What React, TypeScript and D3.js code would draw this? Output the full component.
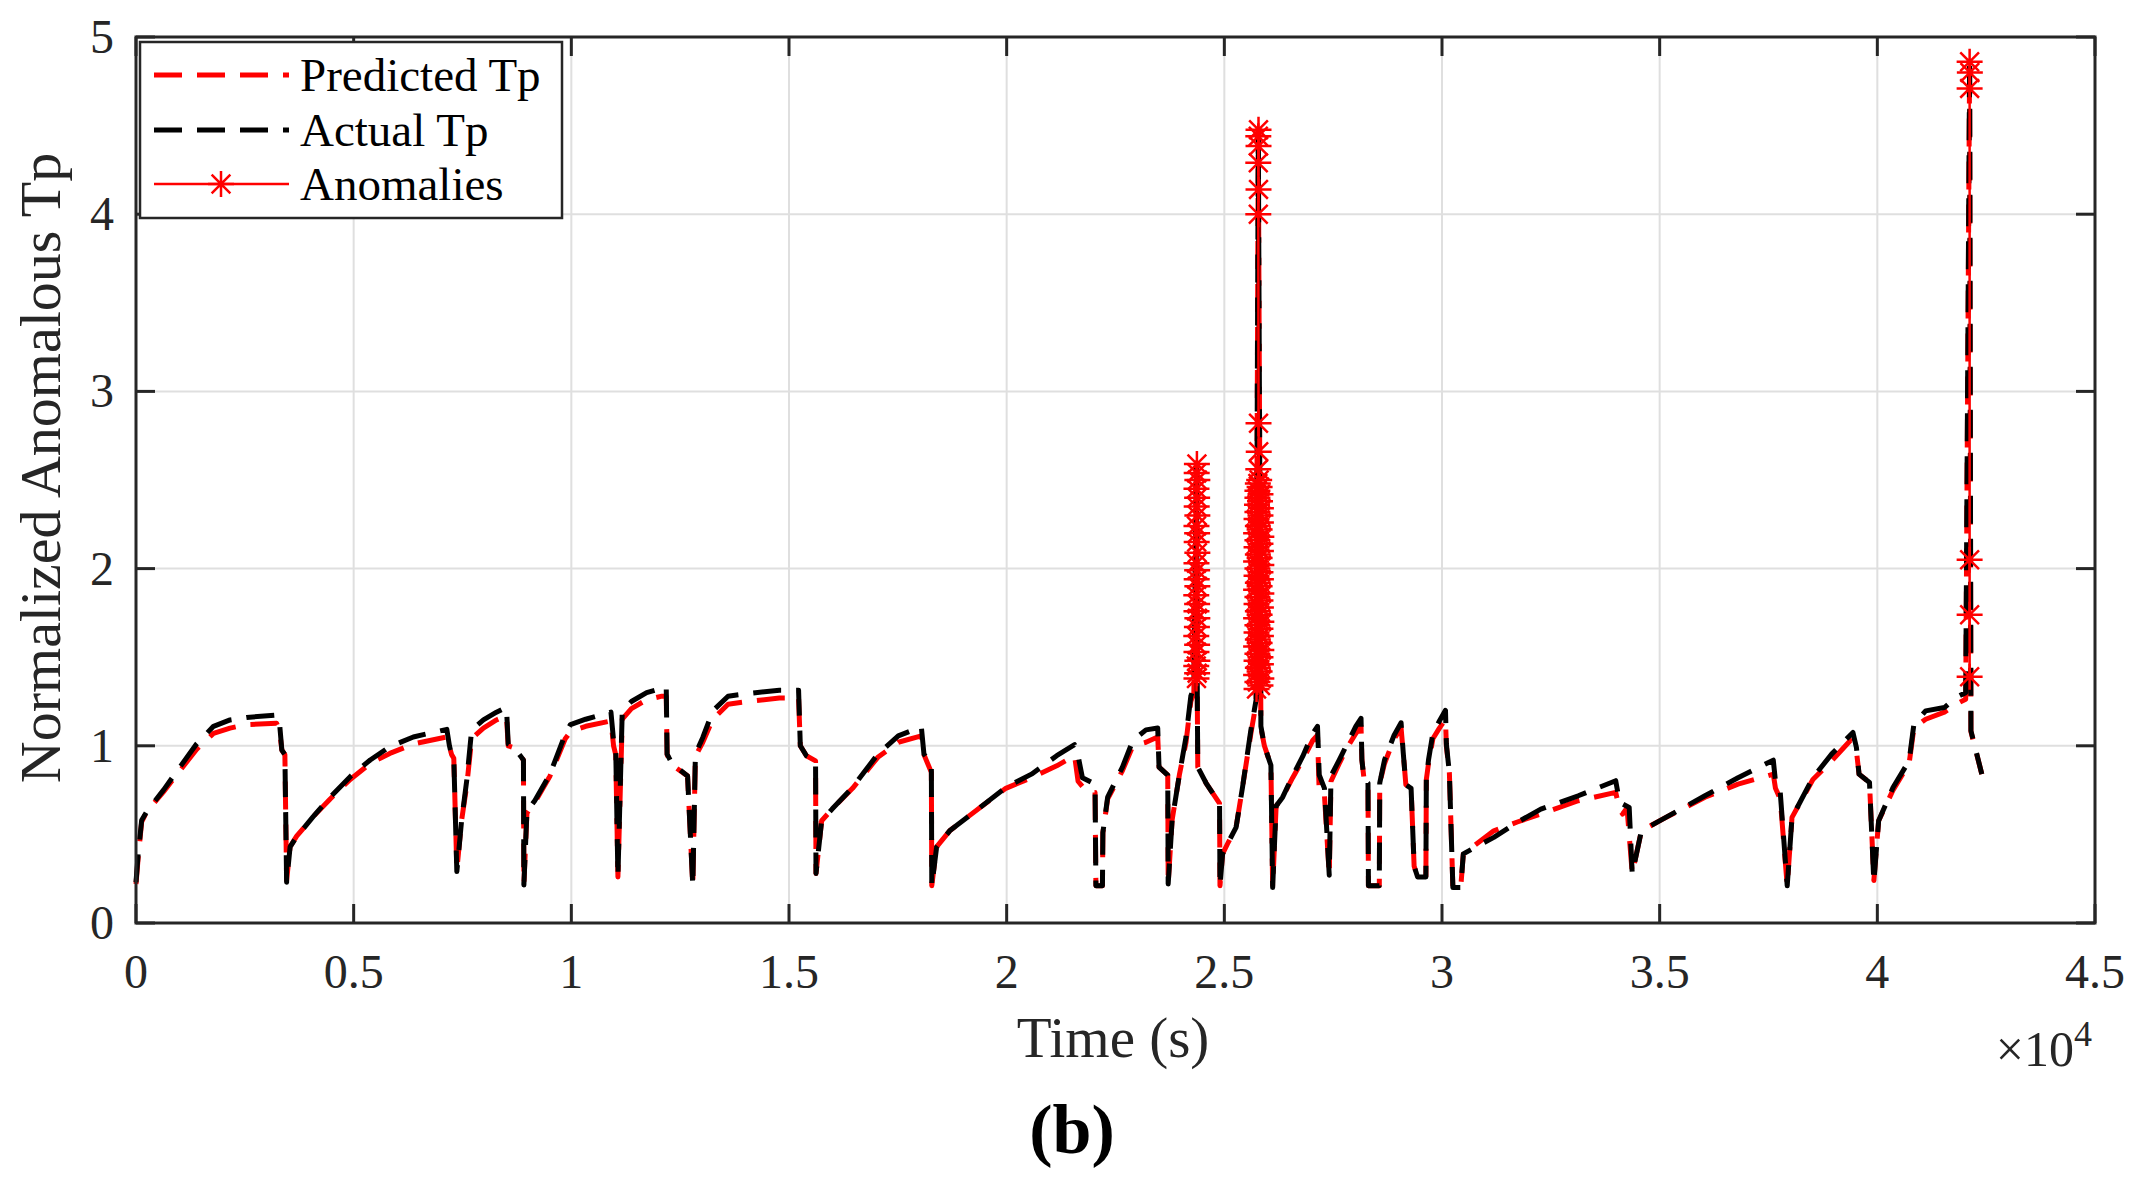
import * as d3 from "d3";

// ---- data (time in seconds, value normalized) ----
const xTicks = [0, 5000, 10000, 15000, 20000, 25000, 30000, 35000, 40000, 45000];
const xTickLabels = ["0", "0.5", "1", "1.5", "2", "2.5", "3", "3.5", "4", "4.5"];
const yTicks = [0, 1, 2, 3, 4, 5];

const actualTp: [number, number][] = [
  [0, 0.23], [50, 0.39], [130, 0.58], [250, 0.63], [630, 0.75], [1010, 0.88], [1390, 1.01],
  [1780, 1.11], [2160, 1.146], [2540, 1.16], [3230, 1.174], [3300, 1.12], [3350, 0.976],
  [3420, 0.95], [3460, 0.23],
  [3540, 0.43], [3690, 0.487], [4070, 0.6], [4460, 0.71], [4920, 0.826], [5380, 0.92],
  [5830, 0.995], [6370, 1.05], [7140, 1.093], [7200, 1.0], [7250, 0.948], [7300, 0.93], [7370, 0.29],
  [7480, 0.58], [7600, 0.81], [7710, 1.09], [7980, 1.146], [8280, 1.19], [8510, 1.217],
  [8550, 1.01], [8670, 0.995], [8900, 0.92], [8910, 0.214],
  [8980, 0.63], [9160, 0.69], [9510, 0.84], [9860, 1.066], [9980, 1.12], [10330, 1.15],
  [10910, 1.19], [10970, 1.03], [11020, 0.98], [11070, 0.26],
  [11170, 1.2], [11380, 1.25], [11730, 1.3], [12080, 1.325], [12180, 1.333], [12200, 0.953],
  [12320, 0.897], [12670, 0.83], [12790, 0.21],
  [12850, 0.953], [13020, 1.047], [13250, 1.197], [13600, 1.28], [14070, 1.295], [14780, 1.314],
  [15220, 1.314], [15260, 1.0], [15400, 0.944], [15610, 0.915], [15620, 0.28],
  [15750, 0.577], [15990, 0.643], [16460, 0.765], [17040, 0.953], [17510, 1.056], [18040, 1.107],
  [18100, 0.953], [18270, 0.897], [18280, 0.21],
  [18390, 0.427], [18690, 0.52], [19390, 0.652], [19980, 0.765], [20570, 0.84], [21150, 0.944],
  [21560, 1.006], [21640, 0.944], [21740, 0.82], [22030, 0.784], [22050, 0.21], [22200, 0.21],
  [22210, 0.51], [22320, 0.71], [22660, 0.88], [22900, 1.03], [23200, 1.09], [23470, 1.1],
  [23500, 0.88], [23700, 0.835], [23710, 0.22],
  [23800, 0.58], [23970, 0.84], [24120, 1.05], [24230, 1.28], [24300, 1.33], [24360, 2.58],
  [24380, 1.24], [24390, 0.88], [24580, 0.79], [24890, 0.675], [24900, 0.21],
  [24960, 0.39], [25080, 0.45], [25270, 0.54], [25420, 0.77], [25610, 1.09], [25730, 1.26],
  [25780, 4.47], [25840, 1.11], [25920, 1.0], [26070, 0.89], [26110, 0.2],
  [26190, 0.66], [26340, 0.71], [26570, 0.83], [26800, 0.94], [27030, 1.07], [27140, 1.11],
  [27160, 0.98], [27180, 0.835], [27300, 0.76], [27410, 0.27],
  [27450, 0.83], [27640, 0.92], [27800, 1.0], [28020, 1.11], [28140, 1.155], [28160, 0.92],
  [28210, 0.81], [28300, 0.79], [28310, 0.21], [28560, 0.21],
  [28570, 0.79], [28680, 0.92], [28900, 1.06], [29060, 1.13], [29110, 0.96], [29170, 0.78],
  [29290, 0.76], [29360, 0.32], [29440, 0.26], [29630, 0.26],
  [29640, 0.81], [29690, 0.92], [29790, 1.07], [29940, 1.14], [30080, 1.2], [30100, 1.01],
  [30170, 0.845], [30250, 0.2], [30430, 0.2],
  [30490, 0.39], [30760, 0.427], [31190, 0.483], [31730, 0.568], [32270, 0.643], [33130, 0.718],
  [33990, 0.803], [34080, 0.68], [34300, 0.652], [34370, 0.276],
  [34580, 0.52], [35070, 0.586], [36040, 0.718], [36800, 0.82], [37610, 0.919], [37660, 0.8],
  [37770, 0.737], [37930, 0.21],
  [38040, 0.596], [38520, 0.82], [38950, 0.953], [39440, 1.075], [39520, 0.99], [39580, 0.84],
  [39820, 0.793], [39920, 0.23],
  [40030, 0.577], [40360, 0.765], [40730, 0.915], [40840, 1.122], [41110, 1.197], [41540, 1.216],
  [41810, 1.273], [42030, 1.3], [42120, 4.87], [42150, 1.085], [42400, 0.84],
];

const predictedTp: [number, number][] = [
  [0, 0.22], [50, 0.37], [130, 0.57], [250, 0.63], [630, 0.74], [1010, 0.86], [1390, 0.98],
  [1780, 1.07], [2160, 1.1], [2540, 1.12], [3230, 1.127], [3300, 1.08], [3350, 0.976],
  [3420, 0.95], [3460, 0.24],
  [3540, 0.43], [3690, 0.49], [4070, 0.6], [4460, 0.7], [4920, 0.81], [5380, 0.9],
  [5830, 0.957], [6370, 1.01], [7140, 1.05], [7200, 0.995], [7250, 0.95], [7300, 0.93], [7370, 0.3],
  [7480, 0.58], [7600, 0.78], [7710, 1.04], [7980, 1.1], [8280, 1.146], [8510, 1.17],
  [8550, 1.0], [8670, 0.99], [8900, 0.92], [8910, 0.22],
  [8980, 0.62], [9160, 0.68], [9510, 0.83], [9860, 1.04], [9980, 1.08], [10330, 1.11],
  [10910, 1.14], [10970, 1.0], [11020, 0.95], [11070, 0.26],
  [11170, 1.15], [11380, 1.21], [11730, 1.26], [12080, 1.28], [12180, 1.28], [12200, 0.95],
  [12320, 0.89], [12670, 0.83], [12790, 0.21],
  [12850, 0.94], [13020, 1.02], [13250, 1.15], [13600, 1.235], [14070, 1.25], [14780, 1.27],
  [15220, 1.27], [15260, 1.0], [15400, 0.944], [15610, 0.915], [15620, 0.28],
  [15750, 0.577], [15990, 0.643], [16460, 0.76], [17040, 0.935], [17510, 1.02], [18040, 1.056],
  [18100, 0.95], [18270, 0.85], [18280, 0.21],
  [18390, 0.43], [18690, 0.52], [19390, 0.652], [19980, 0.76], [20570, 0.82], [21150, 0.887],
  [21560, 0.944], [21640, 0.8], [21850, 0.737], [22030, 0.737], [22050, 0.21], [22200, 0.21],
  [22210, 0.51], [22320, 0.7], [22660, 0.86], [22900, 1.0], [23200, 1.02], [23470, 1.05],
  [23500, 0.88], [23700, 0.835], [23710, 0.22],
  [23800, 0.58], [23970, 0.84], [24120, 1.02], [24230, 1.25], [24300, 1.3], [24360, 2.58],
  [24380, 1.22], [24390, 0.88], [24580, 0.79], [24890, 0.675], [24900, 0.21],
  [24960, 0.39], [25080, 0.45], [25270, 0.54], [25420, 0.77], [25610, 1.07], [25730, 1.24],
  [25780, 4.45], [25840, 1.1], [25920, 1.0], [26070, 0.89], [26110, 0.2],
  [26190, 0.66], [26340, 0.71], [26570, 0.82], [26800, 0.92], [27030, 1.03], [27140, 1.06],
  [27160, 0.9], [27180, 0.73], [27300, 0.72], [27410, 0.27],
  [27450, 0.8], [27640, 0.9], [27800, 0.98], [28020, 1.07], [28140, 1.11], [28160, 0.92],
  [28210, 0.81], [28300, 0.79], [28310, 0.21], [28560, 0.21],
  [28570, 0.79], [28680, 0.9], [28900, 1.04], [29060, 1.1], [29110, 0.96], [29170, 0.78],
  [29290, 0.76], [29360, 0.32], [29440, 0.26], [29630, 0.26],
  [29640, 0.81], [29690, 0.9], [29790, 1.04], [29940, 1.1], [30080, 1.15], [30100, 1.0],
  [30170, 0.845], [30250, 0.2], [30430, 0.2],
  [30490, 0.39], [30760, 0.44], [31190, 0.52], [31730, 0.57], [32270, 0.615], [33130, 0.69],
  [33990, 0.737], [34080, 0.64], [34150, 0.615], [34250, 0.65], [34370, 0.28],
  [34580, 0.52], [35070, 0.586], [36040, 0.71], [36800, 0.784], [37610, 0.84], [37660, 0.76],
  [37770, 0.7], [37930, 0.21],
  [38040, 0.596], [38520, 0.81], [38950, 0.915], [39380, 1.03], [39520, 0.97], [39580, 0.84],
  [39820, 0.793], [39920, 0.24],
  [40030, 0.577], [40360, 0.75], [40730, 0.9], [40840, 1.1], [41110, 1.15], [41540, 1.19],
  [41810, 1.235], [42030, 1.263], [42120, 4.85], [42150, 1.08], [42400, 0.84],
];

// anomalies, one array per burst (the red line is broken between bursts)
const anomaliesBurst1: [number, number][] = [
  [24360, 1.38], [24375, 1.41], [24355, 1.45], [24380, 1.48], [24360, 1.53], [24375, 1.57],
  [24355, 1.62], [24370, 1.67], [24380, 1.72], [24360, 1.76], [24375, 1.8], [24355, 1.85],
  [24380, 1.9], [24365, 1.94], [24375, 1.99], [24360, 2.03], [24380, 2.09], [24365, 2.15],
  [24375, 2.2], [24360, 2.24], [24380, 2.3], [24365, 2.35], [24375, 2.4], [24360, 2.45],
  [24380, 2.5], [24365, 2.54], [24370, 2.59],
];

const anomaliesBurst2: [number, number][] = [
  [25740, 1.32], [25830, 1.34], [25760, 1.36], [25850, 1.38], [25730, 1.4], [25810, 1.42],
  [25770, 1.44], [25840, 1.46], [25740, 1.48], [25830, 1.5], [25760, 1.52], [25850, 1.54],
  [25730, 1.56], [25810, 1.58], [25770, 1.6], [25840, 1.62], [25740, 1.64], [25830, 1.66],
  [25760, 1.68], [25850, 1.7], [25730, 1.72], [25810, 1.74], [25770, 1.76], [25840, 1.78],
  [25740, 1.8], [25830, 1.82], [25760, 1.84], [25850, 1.86], [25730, 1.88], [25810, 1.9],
  [25770, 1.92], [25840, 1.94], [25740, 1.96], [25830, 1.98], [25760, 2.0], [25850, 2.02],
  [25730, 2.04], [25810, 2.06], [25770, 2.08], [25840, 2.1], [25740, 2.12], [25830, 2.14],
  [25760, 2.16], [25850, 2.18], [25730, 2.2], [25810, 2.22], [25770, 2.24], [25840, 2.26],
  [25740, 2.28], [25830, 2.3], [25760, 2.32], [25840, 2.34], [25750, 2.36], [25820, 2.38],
  [25760, 2.4], [25830, 2.42], [25760, 2.44], [25810, 2.46], [25770, 2.48], [25800, 2.5],
  [25780, 2.56], [25790, 2.66], [25785, 2.82], [25780, 4.0], [25785, 4.14], [25780, 4.29],
  [25785, 4.385], [25780, 4.44], [25785, 4.477],
];

const anomaliesBurst3: [number, number][] = [
  [42120, 1.39], [42120, 1.74], [42120, 2.05], [42120, 4.71], [42125, 4.8], [42120, 4.86],
];

const legendLabels = ["Predicted Tp", "Actual Tp", "Anomalies"];

// ---- layout ----
const W = 2137;
const H = 1179;
const left = 136;
const right = 2095;
const top = 37;
const bottom = 923;
const font = "'Liberation Serif', 'Times New Roman', serif";
const axisColor = "#262626";
const gridColor = "#dfdfdf";
const tickLen = 19;
const dash = "28 15";

const x = d3.scaleLinear().domain([0, 45000]).range([left, right]);
const y = d3.scaleLinear().domain([0, 5]).range([bottom, top]);

const line = d3
  .line<[number, number]>()
  .x((d) => x(d[0]))
  .y((d) => y(d[1]));

// MATLAB style asterisk: plus + cross
const star = (r: number) => {
  const k = r * 0.72;
  return `M${-r},0H${r}M0,${-r}V${r}M${-k},${-k}L${k},${k}M${-k},${k}L${k},${-k}`;
};

export default function App() {
  const bursts = [anomaliesBurst1, anomaliesBurst2, anomaliesBurst3];
  const legendRows = [75, 130, 184];

  return (
    <div style={{ position: "absolute", left: 0, top: 0, background: "#fff" }}>
      <svg width={W} height={H} viewBox={`0 0 ${W} ${H}`} style={{ display: "block" }}>
        <rect width={W} height={H} fill="#fff" />

        {/* grid */}
        {xTicks.map((t) => (
          <line key={`gx${t}`} x1={x(t)} x2={x(t)} y1={top} y2={bottom} stroke={gridColor} strokeWidth={2} />
        ))}
        {yTicks.map((t) => (
          <line key={`gy${t}`} x1={left} x2={right} y1={y(t)} y2={y(t)} stroke={gridColor} strokeWidth={2} />
        ))}

        {/* series */}
        <path
          d={line(predictedTp) ?? ""}
          fill="none"
          stroke="#ff0000"
          strokeWidth={5}
          strokeDasharray={dash}
          strokeLinejoin="round"
        />
        <path
          d={line(actualTp) ?? ""}
          fill="none"
          stroke="#000"
          strokeWidth={5}
          strokeDasharray={dash}
          strokeLinejoin="round"
        />
        {bursts.map((b, i) => (
          <g key={`b${i}`}>
            <path d={line(b) ?? ""} fill="none" stroke="#ff0000" strokeWidth={2.5} />
            {b.map((d, j) => (
              <path
                key={j}
                d={star(13)}
                transform={`translate(${x(d[0])},${y(d[1])})`}
                stroke="#ff0000"
                strokeWidth={2.5}
                fill="none"
              />
            ))}
          </g>
        ))}

        {/* axes box + ticks */}
        <rect x={left} y={top} width={right - left} height={bottom - top} fill="none" stroke={axisColor} strokeWidth={3} />
        {xTicks.map((t) => (
          <g key={`tx${t}`} stroke={axisColor} strokeWidth={3}>
            <line x1={x(t)} x2={x(t)} y1={bottom} y2={bottom - tickLen} />
            <line x1={x(t)} x2={x(t)} y1={top} y2={top + tickLen} />
          </g>
        ))}
        {yTicks.map((t) => (
          <g key={`ty${t}`} stroke={axisColor} strokeWidth={3}>
            <line x1={left} x2={left + tickLen} y1={y(t)} y2={y(t)} />
            <line x1={right} x2={right - tickLen} y1={y(t)} y2={y(t)} />
          </g>
        ))}

        {/* tick labels */}
        {xTicks.map((t, i) => (
          <text key={`lx${t}`} x={x(t)} y={988} textAnchor="middle" fontFamily={font} fontSize={48} fill={axisColor}>
            {xTickLabels[i]}
          </text>
        ))}
        {yTicks.map((t) => (
          <text key={`ly${t}`} x={114} y={y(t) + 16} textAnchor="end" fontFamily={font} fontSize={48} fill={axisColor}>
            {t}
          </text>
        ))}
        <text x={2092} y={1066} textAnchor="end" fontFamily={font} fontSize={50} fill={axisColor}>
          ×10<tspan dy={-20} fontSize={36}>4</tspan>
        </text>

        {/* axis labels */}
        <text x={1113} y={1057} textAnchor="middle" fontFamily={font} fontSize={57} fill={axisColor}>
          Time (s)
        </text>
        <text
          transform="translate(60,468) rotate(-90)"
          textAnchor="middle"
          fontFamily={font}
          fontSize={58}
          fill={axisColor}
        >
          Normalized Anomalous Tp
        </text>
        <text x={1072} y={1153} textAnchor="middle" fontFamily={font} fontSize={70} fontWeight="bold" fill="#000">
          (b)
        </text>

        {/* legend */}
        <rect x={140} y={42} width={422} height={176} fill="#fff" stroke={axisColor} strokeWidth={2.5} />
        <line x1={154} x2={289} y1={legendRows[0]} y2={legendRows[0]} stroke="#ff0000" strokeWidth={5} strokeDasharray={dash} />
        <line x1={154} x2={289} y1={legendRows[1]} y2={legendRows[1]} stroke="#000" strokeWidth={5} strokeDasharray={dash} />
        <line x1={154} x2={289} y1={legendRows[2]} y2={legendRows[2]} stroke="#ff0000" strokeWidth={2.5} />
        <path d={star(13)} transform={`translate(221,${legendRows[2]})`} stroke="#ff0000" strokeWidth={2.5} fill="none" />
        {legendLabels.map((l, i) => (
          <text key={l} x={300} y={legendRows[i] + 16} fontFamily={font} fontSize={47} fill="#000">
            {l}
          </text>
        ))}
      </svg>
    </div>
  );
}
